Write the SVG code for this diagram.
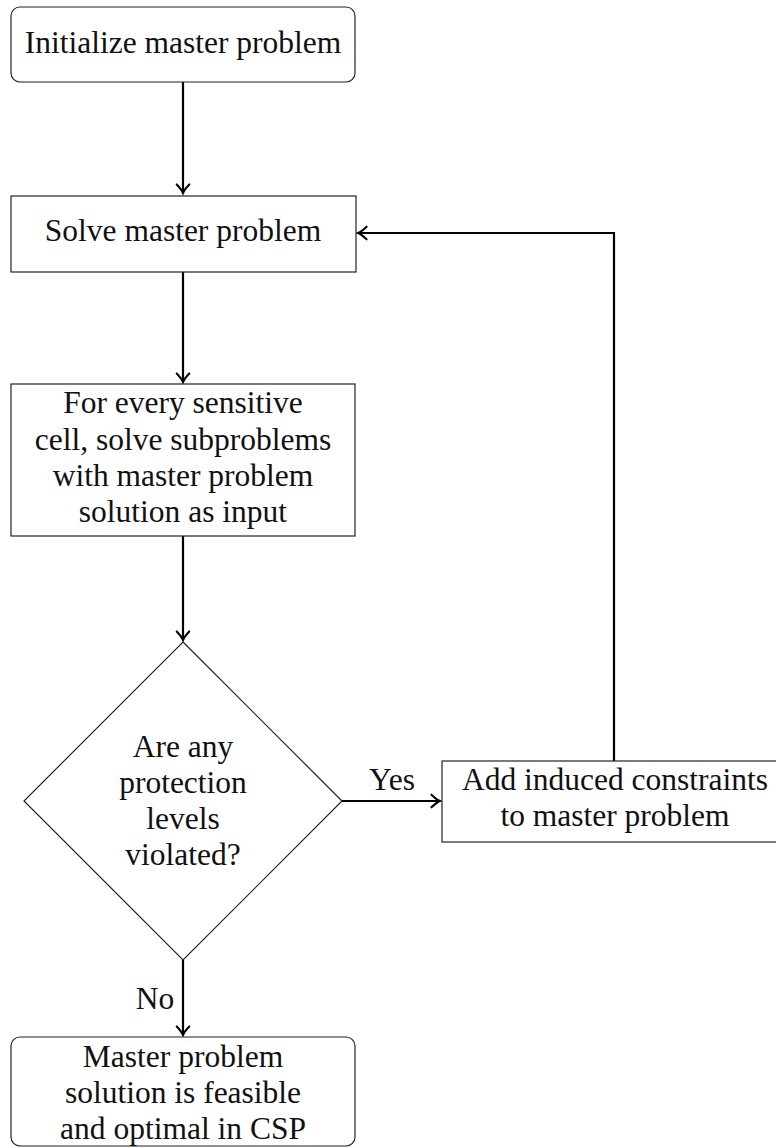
<svg xmlns="http://www.w3.org/2000/svg" width="776" height="1148" viewBox="0 0 776 1148">
<style>
.node{fill:#fff;stroke:#222;stroke-width:1.2}
.t{font-family:Liberation Serif,Times New Roman,serif;font-size:31.5px;fill:#111;text-anchor:middle}
.c{fill:none;stroke:#000;stroke-width:2.2}
</style>
<defs>
<marker id="arr" markerUnits="userSpaceOnUse" markerWidth="16" markerHeight="16" viewBox="-9 -7 11 14" refX="0" refY="0" orient="auto">
<path d="M -7.5 -5.5 Q -3 -1.2 0 0 Q -3 1.2 -7.5 5.5" fill="none" stroke="#000" stroke-width="1.8" stroke-linecap="round"/>
</marker>
</defs>
<rect width="776" height="1148" fill="#fff"/>
<g id="connectors">
<line class="c" x1="183" y1="82" x2="183" y2="193" marker-end="url(#arr)"/>
<line class="c" x1="183" y1="272" x2="183" y2="382" marker-end="url(#arr)"/>
<line class="c" x1="183" y1="536" x2="183" y2="640" marker-end="url(#arr)"/>
<line class="c" x1="342" y1="801" x2="440" y2="801" marker-end="url(#arr)"/>
<polyline class="c" points="614,761 614,233 358,233" marker-end="url(#arr)"/>
<line class="c" x1="183" y1="960" x2="183" y2="1035" marker-end="url(#arr)"/>
<text class="t" x="392" y="790">Yes</text>
<text class="t" x="155" y="1009">No</text>
</g>
<g id="init">
<rect class="node" x="11" y="7" width="344" height="75" rx="9"/>
<text class="t" x="183" y="53">Initialize master problem</text>
</g>
<g id="solve">
<rect class="node" x="11" y="196" width="345" height="76"/>
<text class="t" x="183" y="241">Solve master problem</text>
</g>
<g id="sub">
<rect class="node" x="11" y="384" width="344" height="152"/>
<text class="t" x="183" y="413">For every sensitive</text>
<text class="t" x="183" y="450">cell, solve subproblems</text>
<text class="t" x="183" y="486">with master problem</text>
<text class="t" x="183" y="522">solution as input</text>
</g>
<g id="decision">
<polygon class="node" points="183,642 342,801 183,960 24,801"/>
<text class="t" x="183" y="757">Are any</text>
<text class="t" x="183" y="793">protection</text>
<text class="t" x="183" y="829">levels</text>
<text class="t" x="183" y="865">violated?</text>
</g>
<g id="add">
<rect class="node" x="442" y="761" width="344" height="81"/>
<text class="t" x="615" y="790">Add induced constraints</text>
<text class="t" x="615" y="826">to master problem</text>
</g>
<g id="final">
<rect class="node" x="11" y="1037" width="344" height="109" rx="9"/>
<text class="t" x="183" y="1067">Master problem</text>
<text class="t" x="183" y="1103">solution is feasible</text>
<text class="t" x="183" y="1139">and optimal in CSP</text>
</g>
</svg>
